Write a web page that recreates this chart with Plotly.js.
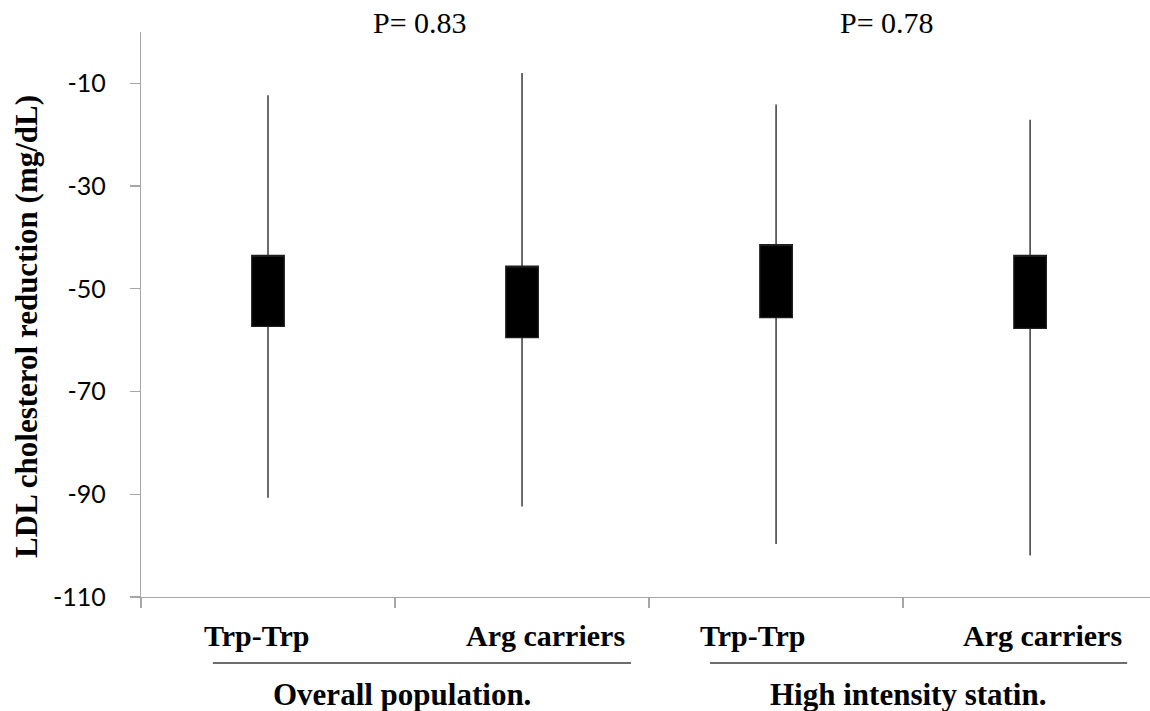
<!DOCTYPE html>
<html>
<head>
<meta charset="utf-8">
<script src="https://cdn.plot.ly/plotly-3.0.1.min.js"></script>
<style>
  html, body { margin: 0; padding: 0; background: #fff; }
  #chart { width: 1150px; height: 711px; }
</style>
</head>
<body>
<div id="chart"></div>
<script>
// Genotype groups within each population
const categories = ['Trp-Trp', 'Arg carriers', 'Trp-Trp', 'Arg carriers'];
const groups = ['Overall population.', 'High intensity statin.'];
const pValues = ['P= 0.83', 'P= 0.78'];

// LDL cholesterol reduction (mg/dL): box edges and whisker ends
const boxTop = [-43.5, -45.6, -41.4, -43.5];
const boxBottom = [-57.3, -59.5, -55.6, -57.7];
const whiskerTop = [-12.3, -8.0, -14.1, -17.1];
const whiskerBottom = [-90.7, -92.4, -99.7, -101.9];

const yTicks = [-110, -90, -70, -50, -30, -10];

const xIdx = categories.map((_, i) => i);

const trace = {
  type: 'box',
  x: xIdx,
  q1: boxBottom,
  median: boxTop,
  q3: boxTop,
  lowerfence: whiskerBottom,
  upperfence: whiskerTop,
  width: 0.128,
  whiskerwidth: 0,
  fillcolor: '#000000',
  line: { color: '#1e1e1e', width: 1.3 },
  hoverinfo: 'skip',
  showlegend: false
};

const serif = 'Liberation Serif, Times New Roman, serif';

// Label placement along the category axis
const catLabelX = [-0.043, 1.094, 1.909, 3.047];
const groupLabelX = [0.528, 2.52];
const pLabelX = [0.598, 2.437];
const groupLineX = [[-0.217, 1.429], [1.740, 3.382]];

const annotations = [];
categories.forEach((c, i) => {
  annotations.push({
    text: '<b>' + c + '</b>', x: catLabelX[i], xref: 'x', y: 0, yref: 'paper',
    yshift: -38, xanchor: 'center', yanchor: 'middle', showarrow: false,
    font: { family: serif, size: 30, color: '#000' }
  });
});
groups.forEach((g, i) => {
  annotations.push({
    text: '<b>' + g + '</b>', x: groupLabelX[i], xref: 'x', y: 0, yref: 'paper',
    yshift: -97, xanchor: 'center', yanchor: 'middle', showarrow: false,
    font: { family: serif, size: 31, color: '#000' }
  });
});
pValues.forEach((p, i) => {
  annotations.push({
    text: p, x: pLabelX[i], xref: 'x', y: 1, yref: 'paper',
    yshift: 9.5, xanchor: 'center', yanchor: 'middle', showarrow: false,
    font: { family: serif, size: 30, color: '#000' }
  });
});
annotations.push({
  text: '<b>LDL cholesterol reduction (mg/dL)</b>',
  x: 0, xref: 'paper', xshift: -114, y: 0.478, yref: 'paper',
  xanchor: 'center', yanchor: 'middle', textangle: -90, showarrow: false,
  font: { family: serif, size: 31, color: '#000' }
});

const shapes = groupLineX.map(([a, b]) => ({
  type: 'line', xref: 'x', yref: 'paper', x0: a, x1: b,
  y0: -0.1168, y1: -0.1168, line: { color: '#3c3c3c', width: 1.5 }
}));

const layout = {
  width: 1150, height: 711,
  margin: { l: 141, r: 0, t: 32, b: 114 },
  paper_bgcolor: '#fff', plot_bgcolor: '#fff',
  xaxis: {
    range: [-0.5, 3.472], showgrid: false, zeroline: false,
    showline: true, linecolor: '#a6a6a6', linewidth: 1.3,
    tickmode: 'array', tickvals: [-0.5, 0.5, 1.5, 2.5, 3.5],
    ticks: 'outside', ticklen: 10, tickcolor: '#a6a6a6', tickwidth: 1.3,
    showticklabels: false, fixedrange: true
  },
  yaxis: {
    range: [-110, 0], showgrid: false, zeroline: false,
    showline: true, linecolor: '#a6a6a6', linewidth: 1.3,
    tickmode: 'array', tickvals: yTicks, ticktext: yTicks.map(String),
    ticks: 'outside', ticklen: 10, tickcolor: '#a6a6a6', tickwidth: 1.3,
    ticklabelstandoff: 19,
    tickfont: { family: 'Lato, Carlito, Calibri, sans-serif', size: 25, color: '#000' },
    fixedrange: true
  },
  annotations: annotations,
  shapes: shapes,
  showlegend: false
};

Plotly.newPlot('chart', [trace], layout, { displayModeBar: false, staticPlot: true });
</script>
</body>
</html>
